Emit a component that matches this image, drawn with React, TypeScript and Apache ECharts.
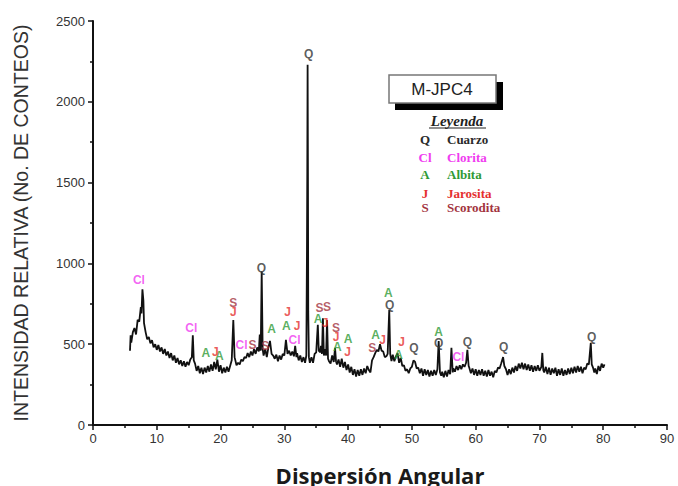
import React, { useEffect, useRef } from "react";
import * as echarts from "echarts";

// Diffractogram, scanned counts (angle 2θ, counts)
const scanLow: [number, number][] = [
  [5.8, 460], [5.9, 555], [6.0, 510], [6.25, 575], [6.5, 600], [6.75, 560], [7.0, 650], [7.25, 640],
  [7.5, 730], [7.6, 690], [7.75, 840], [7.9, 770], [8.0, 630], [8.25, 575], [8.5, 530], [8.75, 545],
  [9.0, 505], [9.25, 525], [9.5, 480], [9.75, 500], [10.0, 465], [10.25, 495], [10.5, 455], [10.75, 480],
  [11.0, 440], [11.25, 470], [11.5, 430], [11.75, 455], [12.0, 415], [12.25, 445], [12.5, 400], [12.75, 430],
  [13.0, 385], [13.25, 415], [13.5, 375], [13.75, 400], [14.0, 365], [14.25, 395], [14.5, 360], [14.75, 390],
  [15.0, 370], [15.25, 405], [15.5, 420], [15.65, 555], [15.8, 400], [16.0, 380], [16.25, 335], [16.5, 365],
  [16.75, 320], [17.0, 355], [17.25, 315], [17.5, 355], [17.75, 325], [18.0, 365], [18.25, 330], [18.5, 375],
  [18.75, 335], [19.0, 390], [19.25, 345], [19.5, 405], [19.75, 330], [20.0, 370], [20.25, 320], [20.5, 355],
  [20.75, 325], [21.0, 360], [21.25, 330], [21.5, 365], [21.75, 400], [22.0, 650], [22.2, 420], [22.5, 370],
  [22.75, 385], [23.0, 375], [23.25, 405], [23.5, 395], [23.75, 420], [24.0, 415], [24.25, 445], [24.5, 420],
  [24.75, 455], [25.0, 430], [25.25, 470], [25.5, 440], [25.75, 480], [26.0, 455], [26.15, 560], [26.3, 460],
  [26.45, 950], [26.6, 470], [26.75, 430], [27.0, 470], [27.25, 420], [27.5, 480], [27.75, 520], [28.0, 440],
  [28.25, 430], [28.5, 410], [28.75, 435], [29.0, 395], [29.25, 430], [29.5, 405], [29.75, 440], [30.0, 430],
  [30.25, 527], [30.5, 440], [30.75, 460], [31.0, 430], [31.25, 455], [31.5, 425], [31.7, 490], [31.9, 420],
  [32.0, 445], [32.25, 400], [32.5, 430], [32.75, 390], [33.0, 420], [33.25, 385], [33.45, 430],
];

const scanMid: [number, number][] = [
  [33.55, 1085], [33.6, 1570], [33.65, 2230], [33.7, 1570], [33.75, 700], [33.85, 420], [34.0, 385], [34.25, 420],
  [34.5, 385], [34.75, 440], [35.0, 450], [35.1, 520], [35.25, 620], [35.4, 460], [35.6, 450], [35.75, 490],
  [35.9, 440], [36.05, 660], [36.2, 430], [36.4, 470], [36.55, 430], [36.7, 650], [36.85, 410], [37.0, 395],
  [37.25, 380], [37.5, 430], [37.75, 390], [37.95, 477], [38.1, 395], [38.25, 375], [38.5, 405], [38.75, 360],
  [39.0, 410], [39.25, 355], [39.5, 390], [39.75, 340], [40.0, 375], [40.25, 325], [40.5, 360], [40.75, 310],
  [41.0, 345], [41.25, 300], [41.5, 340], [41.75, 305], [42.0, 345], [42.25, 310], [42.5, 350], [42.75, 320],
  [43.0, 365], [43.25, 340], [43.5, 325], [43.75, 400], [44.0, 420], [44.25, 445], [44.5, 465], [44.75, 455],
  [45.0, 500], [45.25, 460], [45.5, 455], [45.75, 420], [46.0, 425], [46.2, 440], [46.45, 713], [46.6, 440],
  [46.8, 395], [47.0, 435], [47.25, 395], [47.5, 425], [47.75, 445], [48.0, 385], [48.25, 415], [48.5, 365],
  [48.75, 370], [49.0, 335], [49.25, 345], [49.5, 320], [49.75, 350], [50.0, 360], [50.25, 400], [50.5, 390],
  [50.75, 350], [51.0, 355], [51.25, 320], [51.5, 350], [51.75, 305], [52.0, 345], [52.25, 310], [52.5, 340],
  [52.75, 300], [53.0, 335], [53.25, 305], [53.5, 340], [53.75, 310], [54.0, 345], [54.2, 520], [54.4, 325],
  [54.6, 305], [54.75, 330], [55.0, 295], [55.25, 335], [55.5, 300], [55.75, 340], [56.0, 315], [56.2, 477],
  [56.4, 325], [56.5, 350], [56.75, 330], [57.0, 365], [57.25, 340], [57.5, 370], [57.75, 345], [58.0, 375],
  [58.25, 360], [58.5, 385], [58.7, 465], [58.9, 365], [59.0, 355], [59.25, 320], [59.5, 350], [59.75, 310],
];

const scanHigh: [number, number][] = [
  [60.0, 345], [60.25, 305], [60.5, 340], [60.75, 310], [61.0, 345], [61.25, 305], [61.5, 335], [61.75, 300],
  [62.0, 340], [62.25, 305], [62.5, 330], [62.75, 295], [63.0, 335], [63.25, 325], [63.5, 355], [63.75, 350],
  [64.0, 380], [64.3, 420], [64.5, 365], [64.75, 345], [65.0, 310], [65.25, 345], [65.5, 315], [65.75, 355],
  [66.0, 325], [66.25, 365], [66.5, 335], [66.75, 380], [67.0, 350], [67.25, 385], [67.5, 345], [67.75, 380],
  [68.0, 340], [68.25, 375], [68.5, 335], [68.75, 370], [69.0, 330], [69.25, 365], [69.5, 335], [69.75, 370],
  [70.0, 335], [70.3, 360], [70.45, 446], [70.6, 340], [70.75, 325], [71.0, 360], [71.25, 315], [71.5, 355],
  [71.75, 310], [72.0, 350], [72.25, 320], [72.5, 355], [72.75, 305], [73.0, 345], [73.25, 310], [73.5, 350],
  [73.75, 305], [74.0, 340], [74.25, 310], [74.5, 350], [74.75, 315], [75.0, 355], [75.25, 320], [75.5, 360],
  [75.75, 325], [76.0, 365], [76.25, 330], [76.5, 360], [76.75, 320], [77.0, 355], [77.25, 345], [77.5, 380],
  [77.75, 375], [78.05, 508], [78.2, 375], [78.4, 355], [78.6, 325], [78.75, 350], [79.0, 315], [79.25, 365],
  [79.5, 335], [79.75, 380], [80.0, 355], [80.2, 375],
];

// Peak annotations: [angle, counts where the letter sits]
const cuarzoMarks: [number, number][] = [
  [26.4, 973], [33.8, 2294], [46.5, 744], [50.3, 477], [54.2, 508], [58.7, 515], [64.4, 484], [78.2, 546],
];
const cloritaMarks: [number, number][] = [
  [7.2, 899], [15.4, 601], [23.3, 496], [31.6, 527], [57.3, 420],
];
const albitaMarks: [number, number][] = [
  [17.7, 446], [19.8, 430], [28.0, 595], [30.3, 614], [35.3, 657], [38.3, 484], [40.0, 533], [44.3, 558],
  [46.3, 818], [47.9, 434], [54.2, 577],
];
const jarositaMarks: [number, number][] = [
  [19.2, 453], [22.0, 700], [30.5, 700], [32.0, 614], [36.4, 632], [38.1, 546], [39.9, 453], [45.4, 527],
  [48.4, 515],
];
const escoroditaMarks: [number, number][] = [
  [22.0, 756], [25.0, 496], [27.0, 490], [35.5, 725], [36.7, 731], [38.1, 601], [43.8, 477],
];

const xTicks = { min: 0, max: 90, step: 10 };
const yTicks = { min: 0, max: 2500, step: 500 };

const legendRows = [
  { letter: "Q", name: "Cuarzo", color: "#2a2a2a" },
  { letter: "Cl", name: "Clorita", color: "#f03cf0" },
  { letter: "A", name: "Albita", color: "#2f9a36" },
  { letter: "J", name: "Jarosita", color: "#e5302f" },
  { letter: "S", name: "Scorodita", color: "#a3343f" },
];

const markSeries = (data: [number, number][], letter: string, color: string) => ({
  type: "scatter",
  data,
  symbolSize: 0,
  silent: true,
  z: 5,
  label: {
    show: true,
    position: "inside",
    formatter: letter,
    color,
    fontFamily: "Arial, 'Liberation Sans', sans-serif",
    fontWeight: "bold",
    fontSize: 12,
  },
});

export default function App() {
  const ref = useRef<HTMLDivElement>(null);
  useEffect(() => {
    if (!ref.current) return;
    document.body.style.margin = "0";
    const chart = echarts.init(ref.current, null, { renderer: "svg" });
    const scan = [...scanLow, ...scanMid, ...scanHigh];
    const legendTop = 139;
    const rowGap = [0, 18, 17, 19, 14];
    let yAcc = legendTop;
    const legendTexts: any[] = [];
    legendRows.forEach((r, i) => {
      yAcc += rowGap[i];
      legendTexts.push({
        type: "text",
        x: 425,
        y: yAcc,
        style: {
          text: r.letter,
          fill: r.color,
          font: "bold 13px 'Liberation Serif', 'DejaVu Serif', serif",
          textAlign: "center",
          textVerticalAlign: "middle",
        },
      });
      legendTexts.push({
        type: "text",
        x: 447,
        y: yAcc,
        style: {
          text: r.name,
          fill: r.color,
          font: "bold 13px 'Liberation Serif', 'DejaVu Serif', serif",
          textAlign: "left",
          textVerticalAlign: "middle",
        },
      });
    });
    const numFmt = (v: number) => String(v);
    chart.setOption({
      animation: false,
      backgroundColor: "#ffffff",
      grid: { left: 93, right: 11, top: 21, bottom: 61, containLabel: false, outerBoundsMode: "none" },
      xAxis: {
        type: "value",
        min: xTicks.min,
        max: xTicks.max,
        interval: xTicks.step,
        name: "Dispersión Angular",
        nameLocation: "middle",
        nameGap: 39,
        nameTextStyle: {
          fontFamily: "'Open Sans', Lato, sans-serif",
          fontWeight: "bold",
          fontSize: 22,
          color: "#1a1a1a",
        },
        axisLine: { lineStyle: { color: "#111", width: 2 } },
        axisTick: { length: 5, lineStyle: { color: "#111", width: 1.5 } },
        minorTick: { show: true, splitNumber: 2, length: 3, lineStyle: { color: "#111", width: 1.5 } },
        splitLine: { show: false },
        axisLabel: {
          fontFamily: "Arial, 'Liberation Sans', sans-serif",
          fontSize: 13,
          color: "#333",
          margin: 7,
          formatter: numFmt,
        },
      },
      yAxis: {
        type: "value",
        min: yTicks.min,
        max: yTicks.max,
        interval: yTicks.step,
        name: "INTENSIDAD RELATIVA (No. DE CONTEOS)",
        nameLocation: "middle",
        nameGap: 62,
        nameTextStyle: {
          fontFamily: "Arial, 'Liberation Sans', sans-serif",
          fontSize: 19.5,
          color: "#333",
        },
        axisLine: { show: true, lineStyle: { color: "#111", width: 2 } },
        axisTick: { show: true, length: 5, lineStyle: { color: "#111", width: 1.5 } },
        minorTick: { show: true, splitNumber: 2, length: 3, lineStyle: { color: "#111", width: 1.5 } },
        splitLine: { show: false },
        axisLabel: {
          fontFamily: "Arial, 'Liberation Sans', sans-serif",
          fontSize: 13,
          color: "#333",
          margin: 8,
          formatter: numFmt,
        },
      },
      series: [
        {
          type: "line",
          data: scan,
          showSymbol: false,
          symbol: "none",
          lineStyle: { color: "#111", width: 1.8 },
          z: 3,
        },
        markSeries(cuarzoMarks, "Q", "#333333"),
        markSeries(cloritaMarks, "Cl", "#f03cf0"),
        markSeries(albitaMarks, "A", "#2f9a36"),
        markSeries(jarositaMarks, "J", "#e5302f"),
        markSeries(escoroditaMarks, "S", "#a3343f"),
      ],
      graphic: [
        { type: "rect", shape: { x: 395, y: 82, width: 108, height: 28 }, style: { fill: "#000" }, z: 10 },
        {
          type: "rect",
          shape: { x: 389, y: 75, width: 107, height: 28 },
          style: { fill: "#fff", stroke: "#777", lineWidth: 1.5 },
          z: 11,
        },
        {
          type: "text",
          x: 442,
          y: 89,
          z: 12,
          style: {
            text: "M-JPC4",
            fill: "#222",
            font: "17px Arial, 'Liberation Sans', sans-serif",
            textAlign: "center",
            textVerticalAlign: "middle",
          },
        },
        {
          type: "text",
          x: 457,
          y: 121,
          z: 12,
          style: {
            text: "Leyenda",
            fill: "#222",
            font: "italic bold 15px 'Liberation Serif', 'DejaVu Serif', serif",
            textAlign: "center",
            textVerticalAlign: "middle",
          },
        },
        { type: "line", shape: { x1: 429, y1: 128, x2: 486, y2: 128 }, style: { stroke: "#222", lineWidth: 1 }, z: 12 },
        ...legendTexts.map((t) => ({ ...t, z: 12 })),
      ],
    });
    return () => chart.dispose();
  }, []);
  return <div ref={ref} style={{ width: 678, height: 486 }} />;
}
